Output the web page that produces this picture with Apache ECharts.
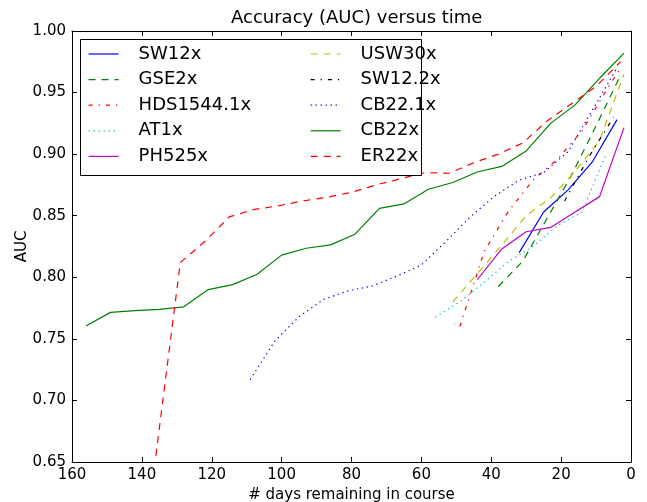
<!DOCTYPE html>
<html>
<head>
<meta charset="utf-8">
<script src="https://cdn.jsdelivr.net/npm/echarts@6/dist/echarts.min.js"></script>
<style>
  html, body { margin: 0; padding: 0; background: #fff; }
  #grafico { width: 647px; height: 502px; }
</style>
</head>
<body>
<div id="grafico"></div>
<script>
// dados (dias restantes -> AUC)
var sw12Dias = [32, 25, 18, 11, 4];
var sw12Auc = [0.820, 0.853, 0.871, 0.894, 0.928];
var gse2Dias = [38, 31, 24, 17, 10, 3];
var gse2Auc = [0.7925, 0.813, 0.848, 0.883, 0.923, 0.964];
var hdsDias = [49, 42, 35, 28, 21, 14, 7, 3];
var hdsAuc = [0.760, 0.821, 0.854, 0.879, 0.896, 0.919, 0.952, 0.970];
var at1Dias = [56, 49, 42, 35, 28, 21, 14, 7];
var at1Auc = [0.7676, 0.780, 0.796, 0.813, 0.825, 0.842, 0.853, 0.901];
var ph525Dias = [44, 37, 30, 23, 16, 9, 2];
var ph525Auc = [0.798, 0.823, 0.837, 0.8405, 0.853, 0.8655, 0.9215];
var usw30Dias = [51, 44, 37, 30, 23, 16, 9, 2];
var usw30Auc = [0.780, 0.803, 0.826, 0.850, 0.8645, 0.886, 0.911, 0.965];
var sw122Dias = [19, 12, 5];
var sw122Auc = [0.862, 0.898, 0.930];
var cb221Dias = [109, 102, 95, 88, 81, 74, 67, 60, 53, 46, 39, 32, 25, 18, 11, 4];
var cb221Auc = [0.717, 0.748, 0.768, 0.782, 0.789, 0.793, 0.801, 0.810, 0.829, 0.849, 0.866, 0.879, 0.885, 0.902, 0.936, 0.970];
var cb22Dias = [156, 149, 142, 135, 128, 121, 114, 107, 100, 93, 86, 79, 72, 65, 58, 51, 44, 37, 30, 23, 16, 9, 2];
var cb22Auc = [0.7605, 0.7715, 0.773, 0.774, 0.776, 0.790, 0.794, 0.8025, 0.818, 0.8236, 0.8263, 0.835, 0.856, 0.8596, 0.8715, 0.877, 0.8855, 0.890, 0.9026, 0.925, 0.940, 0.9616, 0.982];
var er22Dias = [136, 129, 122, 115, 108, 101, 94, 87, 80, 73, 66, 59, 52, 45, 38, 31, 24, 17, 10, 3];
var er22Auc = [0.655, 0.812, 0.829, 0.849, 0.855, 0.858, 0.862, 0.865, 0.869, 0.875, 0.880, 0.885, 0.8845, 0.893, 0.900, 0.909, 0.927, 0.941, 0.955, 0.975];

var xTicks = [160, 140, 120, 100, 80, 60, 40, 20, 0];
var yTicks = [0.65, 0.70, 0.75, 0.80, 0.85, 0.90, 0.95, 1.00];

var fonte = 'DejaVu Sans';
var tracejado = [7, 6];
var tracoPonto = [4, 6, 1.3, 6];
var pontilhado = [1.3, 3.7];

function pares(dias, auc) {
    return dias.map(function (d, i) { return [d, auc[i]]; });
}

function serie(nome, dias, auc, cor, tipo) {
    return {
        name: nome,
        type: 'line',
        data: pares(dias, auc),
        showSymbol: false,
        symbol: 'none',
        clip: true,
        lineStyle: { color: cor, width: 1.2, type: tipo },
        itemStyle: { color: cor },
        z: 2
    };
}

function eixoX(pos, comLabel) {
    return {
        type: 'value',
        position: pos,
        min: xTicks[xTicks.length - 1],
        max: xTicks[0],
        interval: 20,
        inverse: true,
        splitLine: { show: false },
        axisLine: { onZero: false, lineStyle: { color: '#000', width: 1 } },
        axisTick: { inside: true, length: 5, lineStyle: { color: '#000' } },
        axisLabel: { show: comLabel, color: '#000', fontFamily: fonte, fontSize: 15, margin: 6 },
        name: comLabel ? '# days remaining in course' : '',
        nameLocation: 'middle',
        nameGap: 26,
        nameTextStyle: { color: '#000', fontFamily: fonte, fontSize: 15 }
    };
}

function eixoY(pos, comLabel) {
    return {
        type: 'value',
        position: pos,
        min: yTicks[0],
        max: yTicks[yTicks.length - 1],
        interval: 0.05,
        splitLine: { show: false },
        axisLine: { onZero: false, lineStyle: { color: '#000', width: 1 } },
        axisTick: { inside: true, length: 5, lineStyle: { color: '#000' } },
        axisLabel: {
            show: comLabel, color: '#000', fontFamily: fonte, fontSize: 15, margin: 6,
            formatter: function (v) { return v.toFixed(2); }
        },
        name: comLabel ? 'AUC' : '',
        nameLocation: 'middle',
        nameGap: 42,
        nameMoveOverlap: false,
        nameTextStyle: { color: '#000', fontFamily: fonte, fontSize: 15 }
    };
}

function legenda(nomes, esquerda) {
    return {
        data: nomes,
        orient: 'vertical',
        left: esquerda,
        top: 45,
        padding: 0,
        itemWidth: 30,
        itemHeight: 18,
        itemGap: 7.6,
        selectedMode: false,
        itemStyle: { opacity: 0 },
        lineStyle: { width: 1.2 },
        textStyle: { color: '#000', fontFamily: fonte, fontSize: 18, padding: [0, 0, 0, 15] },
        z: 5
    };
}

var chart = echarts.init(document.getElementById('grafico'));
chart.setOption({
    animation: false,
    backgroundColor: '#fff',
    textStyle: { fontFamily: fonte },
    title: {
        text: 'Accuracy (AUC) versus time',
        left: 226,
        top: 4,
        textStyle: { color: '#000', fontFamily: fonte, fontSize: 18, fontWeight: 'normal' }
    },
    grid: { left: 72, right: 16, top: 31, bottom: 40, outerBoundsMode: 'none' },
    xAxis: [eixoX('bottom', true), eixoX('top', false)],
    yAxis: [eixoY('left', true), eixoY('right', false)],
    legend: [
        legenda(['SW12x', 'GSE2x', 'HDS1544.1x', 'AT1x', 'PH525x'], 88),
        legenda(['USW30x', 'SW12.2x', 'CB22.1x', 'CB22x', 'ER22x'], 310)
    ],
    graphic: [{
        type: 'rect',
        shape: { x: 80.5, y: 39.5, width: 341, height: 136 },
        style: { fill: '#fff', stroke: '#000', lineWidth: 1 },
        z: 3
    }],
    series: [
        serie('SW12x', sw12Dias, sw12Auc, '#0000ff', 'solid'),
        serie('GSE2x', gse2Dias, gse2Auc, '#008000', tracejado),
        serie('HDS1544.1x', hdsDias, hdsAuc, '#ff0000', tracoPonto),
        serie('AT1x', at1Dias, at1Auc, '#00bfbf', pontilhado),
        serie('PH525x', ph525Dias, ph525Auc, '#bf00bf', 'solid'),
        serie('USW30x', usw30Dias, usw30Auc, '#bfbf00', tracejado),
        serie('SW12.2x', sw122Dias, sw122Auc, '#000000', tracoPonto),
        serie('CB22.1x', cb221Dias, cb221Auc, '#0000ff', pontilhado),
        serie('CB22x', cb22Dias, cb22Auc, '#008000', 'solid'),
        serie('ER22x', er22Dias, er22Auc, '#ff0000', tracejado)
    ]
});
</script>
</body>
</html>
